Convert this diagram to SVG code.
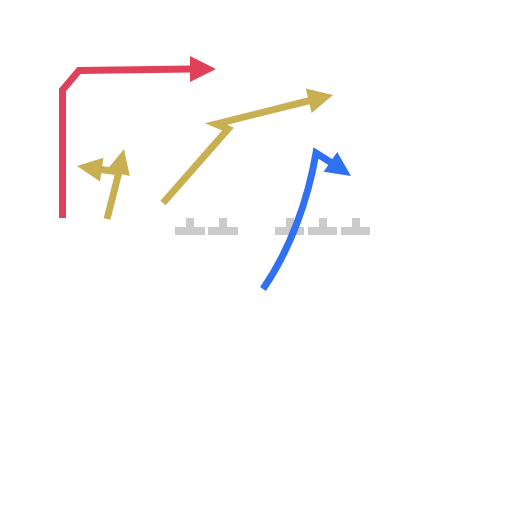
<svg xmlns="http://www.w3.org/2000/svg" width="512" height="512" viewBox="0 0 512 512">
<style>
.ln{fill:none;stroke-width:7;stroke-linejoin:miter;stroke-linecap:butt}
.red{stroke:#e0415a}.redf{fill:#e0415a}
.yel{stroke:#c7af52}.yelf{fill:#c7af52}
.blu{stroke:#3071f2}.bluf{fill:#3071f2}
.blk{fill:#cbcbcb}
</style>
<rect width="512" height="512" fill="#ffffff"/>
<g id="nodes">
<g id="n1"><rect class="blk" x="175" y="227" width="30" height="8"/><rect class="blk" x="186" y="218" width="8" height="10"/></g>
<g id="n2"><rect class="blk" x="208" y="227" width="30" height="8"/><rect class="blk" x="219" y="218" width="8" height="10"/></g>
<g id="n3"><rect class="blk" x="275" y="227" width="29" height="8"/><rect class="blk" x="286" y="218" width="8" height="10"/></g>
<g id="n4"><rect class="blk" x="308" y="227" width="29" height="8"/><rect class="blk" x="319" y="218" width="8" height="10"/></g>
<g id="n5"><rect class="blk" x="341" y="227" width="29" height="8"/><rect class="blk" x="352" y="218" width="8" height="10"/></g>
</g>
<g id="connectors">
<path class="ln red" d="M62.5,218 L62.5,90 L79,70.5 L191,69"/>
<polygon class="redf" points="216,69 190,56 190,82"/>
<path class="ln yel" d="M107,219 L119,172"/>
<polygon class="yelf" points="124,149 106.4,170.5 129.8,176.1"/>
<path class="ln yel" d="M119,172 L101,169.5"/>
<polygon class="yelf" points="77,166 103.4,157.7 100,181.5"/>
<path class="ln yel" d="M163,203 L228,129 L216,124 L310,100.5"/>
<polygon class="yelf" points="333,95 305.8,88.6 311.6,113"/>
<path class="ln blu" d="M263,289 C290,250 308,200 316,153 L331,162.5"/>
<polygon class="bluf" points="351,176 337.2,152 323.6,171.8"/>
</g>
</svg>
